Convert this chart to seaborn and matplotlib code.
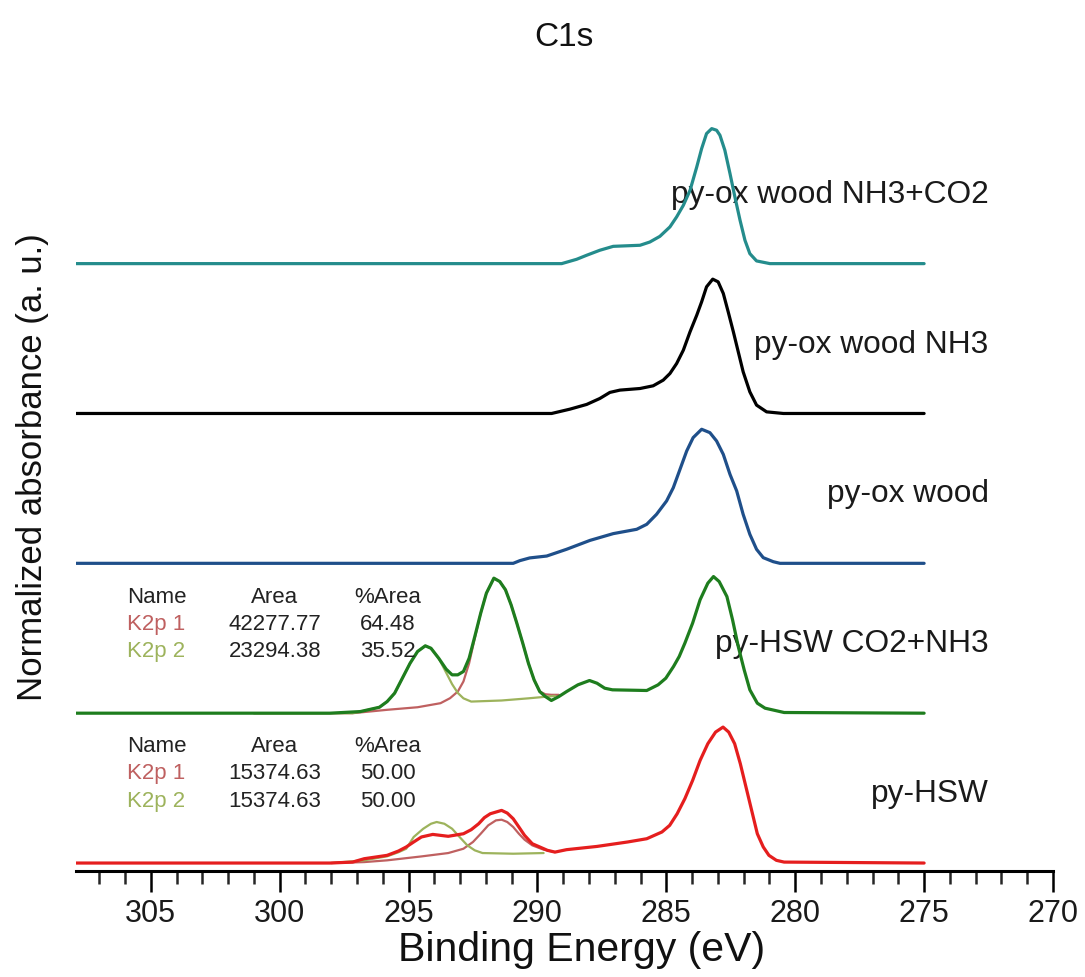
import numpy as np
import pandas as pd
import matplotlib
matplotlib.use("Agg")
import matplotlib.pyplot as plt
from matplotlib.ticker import MultipleLocator
import seaborn as sns

# ---------------- data (binding energy in eV, normalized intensity) ----------------
teal_ev = [308, 289.06, 288.48, 288.09, 287.58, 287.06, 286.02, 285.64, 285.25, 284.86,
           284.60, 284.34, 284.08, 283.82, 283.63, 283.44, 283.24, 283.05, 282.92, 282.73,
           282.53, 282.34, 282.14, 281.95, 281.76, 281.50, 280.98, 275]
teal_int = [0, 0, 0.032, 0.062, 0.099, 0.128, 0.136, 0.160, 0.202, 0.272,
            0.346, 0.432, 0.543, 0.716, 0.852, 0.963, 1.0, 0.988, 0.951, 0.84,
            0.667, 0.494, 0.321, 0.173, 0.074, 0.02, 0, 0]

black_ev = [308, 289.45, 288.74, 288.09, 287.58, 287.19, 286.80, 286.02, 285.51, 285.12,
            284.86, 284.60, 284.34, 284.08, 283.82, 283.63, 283.44, 283.20, 282.99, 282.79,
            282.60, 282.40, 282.21, 282.02, 281.76, 281.50, 281.11, 280.46, 275]
black_int = [0, 0, 0.032, 0.067, 0.111, 0.156, 0.173, 0.185, 0.205, 0.247,
             0.296, 0.370, 0.469, 0.605, 0.728, 0.827, 0.938, 0.995, 0.975, 0.889,
             0.753, 0.605, 0.457, 0.309, 0.160, 0.062, 0.012, 0, 0]

blue_ev = [308, 290.94, 290.68, 290.30, 289.64, 288.87, 287.96, 287.06, 286.15, 285.76,
           285.38, 284.99, 284.73, 284.47, 284.21, 283.96, 283.63, 283.31, 283.05, 282.79,
           282.53, 282.27, 282.02, 281.76, 281.50, 281.24, 280.85, 280.59, 275]
blue_int = [0, 0, 0.020, 0.040, 0.054, 0.104, 0.170, 0.220, 0.252, 0.289,
            0.363, 0.462, 0.560, 0.696, 0.832, 0.931, 0.993, 0.968, 0.906, 0.807,
            0.659, 0.536, 0.363, 0.215, 0.104, 0.042, 0.012, 0, 0]

green_ev = [308, 298.05, 296.87, 296.13, 295.83, 295.54, 295.24, 294.94, 294.65, 294.35,
            294.13, 293.83, 293.54, 293.31, 293.09, 292.87, 292.65, 292.43, 292.20, 291.98,
            291.69, 291.46, 291.24, 291.02, 290.80, 290.57, 290.35, 290.13, 289.91, 289.69,
            289.46, 289.17, 288.87, 288.43, 287.98, 287.69, 287.39, 287.09, 285.76, 285.32,
            285.02, 284.72, 284.50, 284.28, 283.98, 283.69, 283.39, 283.17, 282.95, 282.65,
            282.43, 282.21, 281.98, 281.76, 281.47, 281.17, 280.43, 275]
green_int = [0, 0, 0.012, 0.044, 0.086, 0.148, 0.259, 0.370, 0.457, 0.499,
             0.481, 0.407, 0.326, 0.284, 0.284, 0.309, 0.407, 0.568, 0.741, 0.889,
             1.0, 0.975, 0.914, 0.802, 0.667, 0.519, 0.370, 0.247, 0.160, 0.123,
             0.094, 0.123, 0.160, 0.210, 0.242, 0.222, 0.185, 0.173, 0.168, 0.210,
             0.259, 0.346, 0.420, 0.519, 0.667, 0.840, 0.963, 1.012, 0.975, 0.864,
             0.691, 0.494, 0.321, 0.173, 0.074, 0.037, 0.005, 0]
green_k1_ev = [301.0, 297.17, 295.83, 294.65, 293.76, 293.39, 293.09, 292.87, 292.65, 292.43,
               292.20, 291.98, 291.69, 291.46, 291.24, 291.02, 290.80, 290.57, 290.35, 290.13,
               289.91, 289.69, 289.46, 289.17]
green_k1_int = [0, 0, 0.025, 0.044, 0.074, 0.111, 0.160, 0.235, 0.370, 0.556,
                0.741, 0.889, 1.0, 0.975, 0.914, 0.802, 0.667, 0.519, 0.370, 0.247,
                0.160, 0.140, 0.136, 0.136]
green_k2_ev = [301.0, 297.17, 296.87, 296.13, 295.83, 295.54, 295.24, 294.94, 294.65, 294.35,
               294.13, 293.83, 293.54, 293.31, 293.09, 292.87, 292.57, 291.39, 290.35, 289.32]
green_k2_int = [0, 0, 0.012, 0.044, 0.086, 0.148, 0.259, 0.370, 0.457, 0.499,
                0.481, 0.407, 0.300, 0.215, 0.150, 0.110, 0.086, 0.094, 0.110, 0.128]

red_ev = [308, 298.05, 297.17, 296.72, 295.83, 295.39, 295.09, 294.80, 294.50, 294.06,
          293.46, 292.87, 292.57, 292.28, 292.06, 291.83, 291.39, 291.17, 290.94, 290.72,
          290.50, 290.20, 289.91, 289.61, 289.32, 288.87, 287.69, 286.50, 285.76, 285.17,
          284.87, 284.58, 284.28, 283.98, 283.69, 283.39, 283.09, 282.80, 282.58, 282.35,
          282.13, 281.91, 281.69, 281.47, 281.24, 281.02, 280.73, 280.43, 275]
red_int = [0, 0, 0.007, 0.032, 0.057, 0.089, 0.119, 0.156, 0.193, 0.212,
           0.198, 0.217, 0.247, 0.291, 0.336, 0.365, 0.390, 0.370, 0.328, 0.267,
           0.205, 0.143, 0.119, 0.094, 0.081, 0.099, 0.123, 0.156, 0.180, 0.230,
           0.279, 0.365, 0.477, 0.612, 0.760, 0.884, 0.970, 1.007, 0.970, 0.884,
           0.736, 0.563, 0.390, 0.217, 0.119, 0.057, 0.020, 0.007, 0]
red_k1_ev = [298.0, 296.72, 295.83, 294.50, 293.46, 292.87, 292.50, 292.20, 291.91, 291.61,
             291.39, 291.17, 290.94, 290.72, 290.50, 290.20, 289.76, 289.32]
red_k1_int = [0, 0.007, 0.020, 0.049, 0.074, 0.106, 0.156, 0.217, 0.279, 0.316,
              0.321, 0.304, 0.267, 0.217, 0.173, 0.131, 0.099, 0.081]
red_k2_ev = [298.0, 296.72, 295.83, 295.39, 295.09, 294.80, 294.43, 294.13, 293.91, 293.61,
             293.31, 293.02, 292.72, 292.43, 292.13, 290.94, 289.76]
red_k2_int = [0, 0.020, 0.050, 0.080, 0.106, 0.193, 0.254, 0.291, 0.304, 0.291,
              0.254, 0.193, 0.131, 0.094, 0.074, 0.069, 0.074]

sample_names = ["py-HSW", "py-HSW CO2+NH3", "py-ox wood", "py-ox wood NH3", "py-ox wood NH3+CO2"]
offsets = [0.0, 1.11, 2.22, 3.33, 4.44]
colors = ["#E51E1E", "#1E7D1E", "#1F4F8A", "#000000", "#248C8C"]
k1_color = "#BF6060"
k2_color = "#9DB35C"

table_header = ["Name", "Area", "%Area"]
table_green_area = ["42277.77", "23294.38"]
table_green_pct = ["64.48", "35.52"]
table_red_area = ["15374.63", "15374.63"]
table_red_pct = ["50.00", "50.00"]
comp_names = ["K2p 1", "K2p 2"]

xticks_major = [305, 300, 295, 290, 285, 280, 275, 270]

# ---------------- plotting ----------------
sns.set_theme(style="white")
plt.rcParams["font.family"] = ["Liberation Sans", "DejaVu Sans"]

fig = plt.figure(figsize=(10.85, 9.77), dpi=100)
ax = fig.add_axes([76 / 1085, 1 - 871 / 977, 977 / 1085, 771 / 977])

spectra = [(red_ev, red_int), (green_ev, green_int), (blue_ev, blue_int),
           (black_ev, black_int), (teal_ev, teal_int)]

def draw(ev, inten, off, col, lw, z):
    df = pd.DataFrame({"ev": ev, "y": np.asarray(inten) + off})
    sns.lineplot(data=df, x="ev", y="y", color=col, linewidth=lw, ax=ax,
                 estimator=None, sort=False, zorder=z)

# fit components
draw(red_k1_ev, red_k1_int, offsets[0], k1_color, 1.6, 2)
draw(red_k2_ev, red_k2_int, offsets[0], k2_color, 1.6, 2)
draw(green_k1_ev, green_k1_int, offsets[1], k1_color, 1.6, 2)
draw(green_k2_ev, green_k2_int, offsets[1], k2_color, 1.6, 2)

for (ev, inten), off, col in zip(spectra, offsets, colors):
    draw(ev, inten, off, col, 2.3, 3)

# sample labels
for name, off in zip(sample_names, offsets):
    ax.text(272.5, off + 0.51, name, ha="right", va="center", fontsize=22.8, color="#1a1a1a", zorder=1)

# fit tables
def table(off, areas, pcts):
    rows = [off + 0.86, off + 0.66, off + 0.455]
    ax.text(305.93, rows[0], table_header[0], ha="left", va="center", fontsize=16, color="#222222")
    ax.text(300.19, rows[0], table_header[1], ha="center", va="center", fontsize=16, color="#222222")
    ax.text(295.80, rows[0], table_header[2], ha="center", va="center", fontsize=16, color="#222222")
    for i, (nm, col) in enumerate(zip(comp_names, [k1_color, k2_color])):
        ax.text(305.93, rows[i + 1], nm, ha="left", va="center", fontsize=16, color=col)
        ax.text(300.19, rows[i + 1], areas[i], ha="center", va="center", fontsize=16, color="#222222")
        ax.text(295.80, rows[i + 1], pcts[i], ha="center", va="center", fontsize=16, color="#222222")

table(offsets[1], table_green_area, table_green_pct)
table(offsets[0], table_red_area, table_red_pct)

ax.set_xlim(307.9, 270)
ax.set_ylim(-0.059, 5.652)
ax.xaxis.set_major_locator(plt.FixedLocator(xticks_major))
ax.xaxis.set_minor_locator(MultipleLocator(1))
ax.set_yticks([])
for s in ["left", "right", "top"]:
    ax.spines[s].set_visible(False)
ax.spines["bottom"].set_linewidth(2.2)
ax.spines["bottom"].set_color("black")
ax.tick_params(axis="x", which="major", direction="out", length=15, width=1.8,
               labelsize=22, pad=5, colors="black", bottom=True)
ax.tick_params(axis="x", which="minor", direction="out", length=9.5, width=1.8, bottom=True)
for lab in ax.get_xticklabels():
    lab.set_color("#1a1a1a")

ax.set_xlabel("Binding Energy (eV)", fontsize=29.5, color="#111111")
ax.xaxis.set_label_coords(0.517, -0.078)
ax.set_ylabel("Normalized absorbance (a. u.)", fontsize=25, color="#111111")
ax.yaxis.set_label_coords(-0.028, 0.524)

fig.text(564 / 1085, 1 - 38 / 977, "C1s", ha="center", va="center", fontsize=24, color="#111111")

fig.savefig("out.png", dpi=100)
